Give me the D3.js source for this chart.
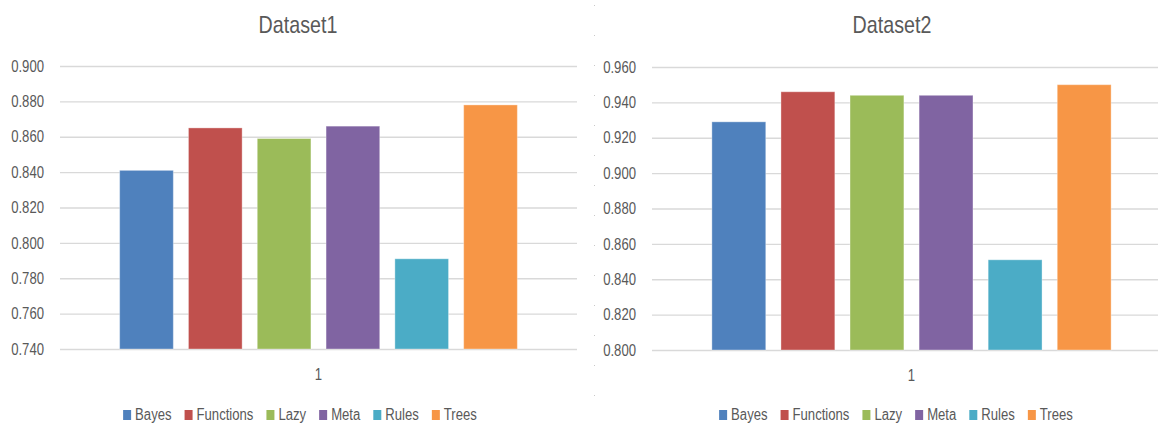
<!DOCTYPE html>
<html>
<head>
<meta charset="utf-8">
<script src="https://cdn.jsdelivr.net/npm/d3@7"></script>
<style>
    html, body { margin: 0; padding: 0; background: #fff; }
    svg { display: block; font-family: "Liberation Sans", Arial, sans-serif; }
    .tick line { stroke: #d9d9d9; stroke-width: 1.3; }
    .tick text { fill: #595959; font-size: 16px; }
</style>
</head>
<body>
<div id="svg-container"></div>
<script>
var categories = ['1'];
var seriesNames = ['Bayes', 'Functions', 'Lazy', 'Meta', 'Rules', 'Trees'];
var seriesColors = ['#4f81bd', '#c0504d', '#9bbb59', '#8064a2', '#4bacc6', '#f79646'];

var dataset1Values = [0.841, 0.865, 0.859, 0.866, 0.791, 0.878];
var dataset2Values = [0.929, 0.946, 0.944, 0.944, 0.851, 0.950];

var dataset1Ticks = [0.740, 0.760, 0.780, 0.800, 0.820, 0.840, 0.860, 0.880, 0.900];
var dataset2Ticks = [0.800, 0.820, 0.840, 0.860, 0.880, 0.900, 0.920, 0.940, 0.960];

;(function () {

    var width = 1158
        , height = 425
        , narrow = 0.82   // no narrow face installed, so squeeze the text by hand
        , svg;

    // one entry per panel, the plot box is in page pixels
    var panels = [
        { title: 'Dataset1', values: dataset1Values, ticks: dataset1Ticks,
          left: 60, right: 577, top: 66, bottom: 349, center: 298, legendCenter: 300 },
        { title: 'Dataset2', values: dataset2Values, ticks: dataset2Ticks,
          left: 652, right: 1171, top: 67, bottom: 350, center: 892, legendCenter: 896 }
    ];

    function squeeze(sel) {
        sel.each(function() {
            var t = d3.select(this)
                , x = +t.attr('x') || 0;
            t.attr('x', x / narrow)
                .attr('transform', 'scale(' + narrow + ',1)');
        });
    }

    function drawPanel(p) {
        var g = svg.append('g').attr('class', 'panel');

        var y = d3.scaleLinear()
            .domain([p.ticks[0], p.ticks[p.ticks.length - 1]])
            .range([p.bottom, p.top]);

        var x0 = d3.scaleBand()
            .domain(categories)
            .range([p.left, p.right])
            .paddingOuter(0.15);

        var x1 = d3.scaleBand()
            .domain(seriesNames)
            .range([0, x0.bandwidth()])
            .paddingInner(0.22);

        var yAxis = g.append('g')
            .attr('transform', 'translate(' + p.left + ',0)')
            .call(d3.axisLeft(y)
                .tickValues(p.ticks)
                .tickFormat(d3.format('.3f'))
                .tickSize(-(p.right - p.left))
                .tickPadding(16));
        yAxis.select('.domain').remove();
        yAxis.selectAll('.tick text').call(squeeze);

        var xAxis = g.append('g')
            .attr('transform', 'translate(0,' + p.bottom + ')')
            .call(d3.axisBottom(x0).tickSize(0).tickPadding(20));
        xAxis.select('.domain').remove();
        xAxis.selectAll('.tick text').call(squeeze);

        g.append('g')
            .selectAll('g')
            .data(categories)
            .enter().append('g')
            .attr('transform', function(d) { return 'translate(' + x0(d) + ',0)'; })
            .selectAll('rect')
            .data(function() {
                return seriesNames.map(function(name, i) {
                    return { name: name, value: p.values[i], color: seriesColors[i] };
                });
            })
            .enter().append('rect')
            .attr('x', function(d) { return x1(d.name); })
            .attr('y', function(d) { return y(d.value); })
            .attr('width', x1.bandwidth())
            .attr('height', function(d) { return y(y.domain()[0]) - y(d.value); })
            .attr('fill', function(d) { return d.color; })
            .attr('stroke', '#ffffff')
            .attr('stroke-opacity', 0.35);

        g.append('text')
            .attr('x', p.center)
            .attr('y', 33)
            .attr('text-anchor', 'middle')
            .attr('fill', '#595959')
            .style('font-size', '24px')
            .text(p.title)
            .call(squeeze);

        drawLegend(g, p.legendCenter);
    }

    function drawLegend(g, cx) {
        var legend = g.append('g').attr('class', 'legend')
            , offset = 0;

        seriesNames.forEach(function(name, i) {
            var item = legend.append('g').attr('transform', 'translate(' + offset + ',0)');
            item.append('rect')
                .attr('x', 0)
                .attr('y', 410)
                .attr('width', 8)
                .attr('height', 10)
                .attr('fill', seriesColors[i]);
            var label = item.append('text')
                .attr('x', 12)
                .attr('y', 420)
                .attr('fill', '#595959')
                .style('font-size', '16px')
                .text(name)
                .call(squeeze);
            offset += 12 + label.node().getComputedTextLength() * narrow + 13;
        });

        var total = offset - 13;
        legend.attr('transform', 'translate(' + (cx - total / 2) + ',0)');
    }

    function initialize() {
        svg = d3.select('#svg-container').append('svg')
            .attr('width', width)
            .attr('height', height);

        // faint dotted divider between the two charts
        svg.append('line')
            .attr('x1', 594.5).attr('x2', 594.5)
            .attr('y1', 5).attr('y2', height)
            .attr('stroke', '#c8c8c8')
            .attr('stroke-dasharray', '1,29');

        panels.forEach(drawPanel);
    }

    initialize();

}());
</script>
</body>
</html>
